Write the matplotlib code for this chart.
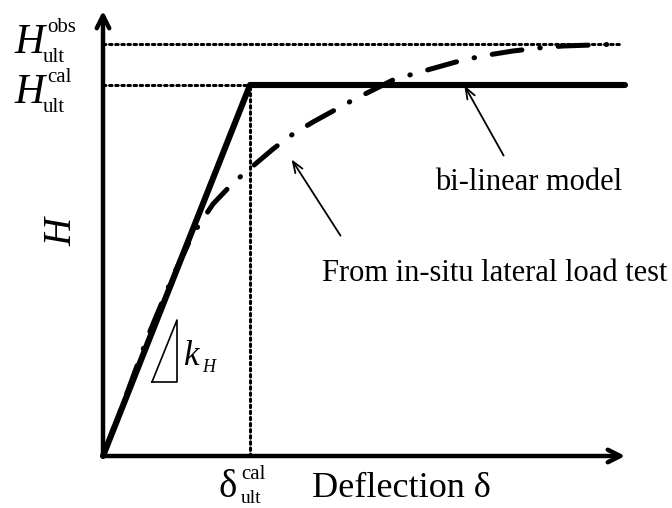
import numpy as np
import matplotlib
matplotlib.use("Agg")
import matplotlib.pyplot as plt

serif = "Liberation Serif"

# bi-linear model: origin -> yield point -> plateau
bilin_x = [0, 147, 522]
bilin_y = [0, 371, 371]

# measured load-deflection curve (in-situ lateral load test)
test_x = [0, 20, 45, 70, 90, 110, 130, 150, 170, 190, 210, 230, 250, 270,
          290, 310, 335, 360, 385, 410, 435, 460, 490, 517]
test_y = [0, 52, 120, 180, 222, 252, 273, 290, 307, 322, 334, 345, 356, 366,
          376, 382, 389, 396, 401, 405, 408, 410, 411, 412]

H_cal = 371
H_obs = 412
d_cal = 147
x_end = 525
y_end = 448

fig = plt.figure(figsize=(6.72, 5.08), dpi=100)
ax = fig.add_axes([0, 0, 1, 1])
ax.set_xlim(-103, 569)
ax.set_ylim(-52, 456)
ax.axis("off")

# axes with arrow heads
ax.annotate("", xy=(0, y_end), xytext=(0, -1),
            arrowprops=dict(arrowstyle="->,head_length=0.9,head_width=0.45", lw=3.2, color="black"))
ax.annotate("", xy=(x_end, 0), xytext=(-1, 0),
            arrowprops=dict(arrowstyle="->,head_length=0.9,head_width=0.45", lw=3.2, color="black"))

# reference dotted lines
dot = dict(color="black", lw=2.2, ls=(0, (0.8, 1.2)), dash_capstyle="round")
ax.plot([0, d_cal], [H_cal, H_cal], **dot)
ax.plot([d_cal, d_cal], [0, H_cal], **dot)
ax.plot([0, test_x[-1]], [H_obs, H_obs], **dot)

# curves
ax.plot(test_x, test_y, color="black", lw=3.6, ls=(0, (6.0, 3.6, 0.1, 3.6)),
        dash_capstyle="round", solid_joinstyle="round")
ax.plot(bilin_x, bilin_y, color="black", lw=4.4, solid_capstyle="round", solid_joinstyle="round")

# slope triangle
tri_x = [49, 74, 74, 49]
tri_y = [74, 136, 74, 74]
ax.plot(tri_x, tri_y, color="black", lw=1.2)
ax.text(81, 91, "k", fontsize=25, family=serif, style="italic", va="baseline")
ax.text(99, 84, "H", fontsize=13, family=serif, style="italic", va="baseline")

# y tick labels
for yv, sup, base in [(H_obs, "obs", 403), (H_cal, "cal", 353)]:
    ax.text(-89, base, "H", fontsize=30, family=serif, style="italic", va="baseline")
    ax.text(-56, base + 21, sup, fontsize=15, family=serif, va="baseline")
    ax.text(-60, base - 9, "ult", fontsize=15, family=serif, va="baseline")

ax.text(-41, 224, "H", fontsize=28, family=serif, style="italic", rotation=90,
        ha="center", va="center")

# x labels
ax.text(115, -41, "δ", fontsize=28, family=serif, va="baseline")
ax.text(138, -23, "cal", fontsize=15, family=serif, va="baseline")
ax.text(138, -47, "ult", fontsize=14, family=serif, va="baseline")
ax.text(209, -41, "Deflection δ", fontsize=26, family=serif, va="baseline")

# annotations
ax.annotate("", xy=(360, 373), xytext=(402, 298),
            arrowprops=dict(arrowstyle="->,head_length=0.8,head_width=0.3", lw=1.3, color="black"))
ax.text(332, 266, "bi-linear model", fontsize=22, family=serif, va="baseline")
ax.annotate("", xy=(187, 299), xytext=(239, 218),
            arrowprops=dict(arrowstyle="->,head_length=0.8,head_width=0.3", lw=1.3, color="black"))
ax.text(219, 175, "From in-situ lateral load test", fontsize=22, family=serif, va="baseline")

fig.savefig("out.png", dpi=100)
